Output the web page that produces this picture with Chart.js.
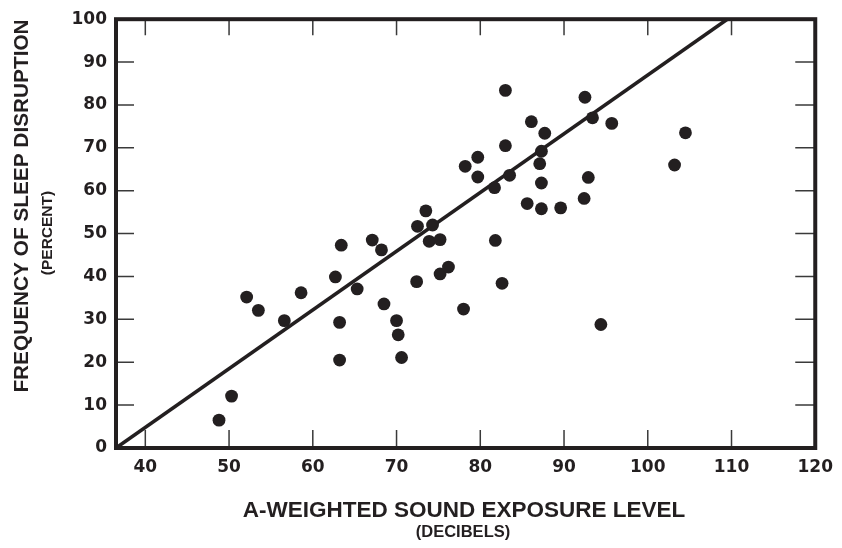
<!DOCTYPE html>
<html>
<head>
<meta charset="utf-8">
<title>Sleep Disruption vs Sound Exposure</title>
<script src="https://cdn.jsdelivr.net/npm/chart.js@4.4.1/dist/chart.umd.min.js"></script>
<style>
  html, body { margin: 0; padding: 0; background: #fff; }
  #wrap { width: 842px; height: 548px; }
</style>
</head>
<body>
<div id="wrap"><canvas id="sleepChart" width="842" height="548"></canvas></div>
<script>
/* ============================================================
   Sleep disruption vs. A-weighted sound exposure level
   ============================================================ */

// ---- Data ----
const SOUND_DB = [
  48.8, 50.3, 52.1, 53.5, 56.6, 58.6, 62.7, 63.4, 63.2, 63.2,
  65.3, 67.1, 68.2, 68.5, 70.0, 70.2, 70.6, 72.5, 72.4, 73.5,
  73.9, 74.3, 75.2, 75.2, 76.2, 78.0, 78.2, 79.7, 79.7, 81.7,
  81.8, 82.6, 83.0, 83.0, 83.5, 85.6, 86.1, 87.1, 87.7, 87.3,
  87.3, 87.3, 89.6, 92.5, 92.4, 92.9, 93.4, 94.4, 95.7, 103.2,
  104.5
];
const DISRUPT_PCT = [
  6.5, 12.1, 35.2, 32.1, 29.7, 36.2, 39.9, 47.3, 29.3, 20.5,
  37.1, 48.5, 46.2, 33.6, 29.7, 26.4, 21.1, 51.7, 38.8, 55.3,
  48.2, 52.0, 48.6, 40.6, 42.2, 32.4, 65.7, 67.8, 63.2, 60.7,
  48.4, 38.4, 83.4, 70.5, 63.6, 57.0, 76.1, 66.3, 73.4, 69.2,
  61.8, 55.8, 56.0, 81.8, 58.2, 63.1, 77.0, 28.8, 75.7, 66.0,
  73.5
];

// fitted line end points
const FIT_X = [36.5, 109.5];
const FIT_Y = [0, 100];

const X_TICKS = [40, 50, 60, 70, 80, 90, 100, 110, 120];
const Y_TICKS = [0, 10, 20, 30, 40, 50, 60, 70, 80, 90, 100];

const INK = "#231f20";

// ---- Plugins ----
// frame round the plot area + inward tick marks on all four sides
const framePlugin = {
  id: "frame",
  afterDatasetsDraw(chart) {
    const { ctx, chartArea: a, scales } = chart;
    ctx.save();
    ctx.strokeStyle = "#3a3a3a";
    ctx.lineWidth = 1.5;
    ctx.beginPath();
    X_TICKS.forEach(v => {
      if (v >= scales.x.max) return;
      const px = scales.x.getPixelForValue(v);
      ctx.moveTo(px, a.bottom);  ctx.lineTo(px, a.bottom - 18);
      ctx.moveTo(px, a.top);     ctx.lineTo(px, a.top + 16);
    });
    Y_TICKS.forEach(v => {
      if (v <= scales.y.min || v >= scales.y.max) return;
      const py = scales.y.getPixelForValue(v);
      ctx.moveTo(a.left, py);   ctx.lineTo(a.left + 18, py);
      ctx.moveTo(a.right, py);  ctx.lineTo(a.right - 20, py);
    });
    ctx.stroke();

    ctx.strokeStyle = INK;
    ctx.lineWidth = 4;
    ctx.strokeRect(a.left, a.top, a.right - a.left, a.bottom - a.top);
    ctx.restore();
  }
};

// two-size axis titles
const titlePlugin = {
  id: "axisTitles",
  afterDraw(chart) {
    const { ctx } = chart;
    ctx.save();
    ctx.fillStyle = INK;
    ctx.textAlign = "center";
    ctx.textBaseline = "middle";

    ctx.font = "bold 22.5px 'Liberation Sans', Arial, sans-serif";
    ctx.fillText("A-WEIGHTED SOUND EXPOSURE LEVEL", 464, 511);
    ctx.font = "bold 16.5px 'Liberation Sans', Arial, sans-serif";
    ctx.fillText("(DECIBELS)", 463, 532);

    ctx.translate(22, 206);
    ctx.rotate(-Math.PI / 2);
    ctx.font = "bold 20.8px 'Liberation Sans', Arial, sans-serif";
    ctx.fillText("FREQUENCY OF SLEEP DISRUPTION", 0, 0);
    ctx.font = "bold 15.5px 'Liberation Sans', Arial, sans-serif";
    ctx.fillText("(PERCENT)", -27, 26);
    ctx.restore();
  }
};

// ---- Chart ----
const tickFont = { family: "'DejaVu Sans', sans-serif", size: 17, weight: "bold" };

new Chart(document.getElementById("sleepChart"), {
  type: "scatter",
  data: {
    datasets: [
      {
        label: "Fit",
        type: "line",
        data: FIT_X.map((x, i) => ({ x, y: FIT_Y[i] })),
        borderColor: INK,
        borderWidth: 3.5,
        pointRadius: 0,
        fill: false,
        order: 2
      },
      {
        label: "Studies",
        data: SOUND_DB.map((x, i) => ({ x, y: DISRUPT_PCT[i] })),
        backgroundColor: INK,
        borderColor: INK,
        borderWidth: 0,
        pointRadius: 6.4,
        order: 1
      }
    ]
  },
  options: {
    responsive: false,
    animation: false,
    layout: { padding: { left: 0, top: 13, right: 25, bottom: 0 } },
    plugins: {
      legend: { display: false },
      tooltip: { enabled: false }
    },
    scales: {
      x: {
        type: "linear",
        min: 36.5,
        max: 120,
        grid: { display: false, drawTicks: false },
        border: { display: false },
        afterBuildTicks: s => { s.ticks = X_TICKS.map(v => ({ value: v })); },
        afterFit: s => { s.height = 100; },
        ticks: { color: INK, font: tickFont, padding: 9, maxRotation: 0 }
      },
      y: {
        type: "linear",
        min: 0,
        max: 100,
        grid: { display: false, drawTicks: false },
        border: { display: false },
        afterBuildTicks: s => { s.ticks = Y_TICKS.map(v => ({ value: v })); },
        afterFit: s => { s.width = 116; },
        ticks: { color: INK, font: tickFont, padding: 9 }
      }
    }
  },
  plugins: [framePlugin, titlePlugin]
});
</script>
</body>
</html>
